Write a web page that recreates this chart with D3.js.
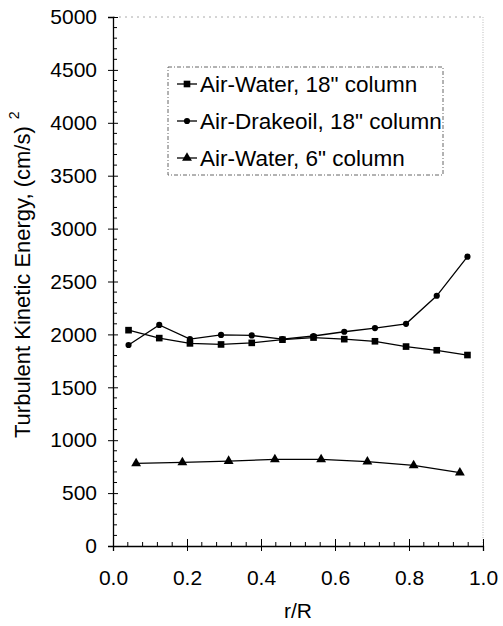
<!DOCTYPE html>
<html><head><meta charset="utf-8">
<script src="https://cdn.jsdelivr.net/npm/d3@7"></script>
<style>body{margin:0;background:#fff}text{font-family:"Liberation Sans",Arial,sans-serif}</style>
</head><body><svg id="c" width="503" height="626"></svg>
<script>
const seriesNames = ['Air-Water, 18" column', 'Air-Drakeoil, 18" column', 'Air-Water, 6" column'];
const x18 = [0.042, 0.125, 0.208, 0.292, 0.375, 0.458, 0.542, 0.625, 0.708, 0.792, 0.875, 0.958];
const airWater18 = [2040, 1965, 1915, 1905, 1920, 1950, 1970, 1955, 1935, 1885, 1850, 1805];
const drakeoil18 = [1900, 2090, 1955, 1995, 1990, 1955, 1985, 2025, 2060, 2100, 2365, 2735];
const x6 = [0.0625, 0.1875, 0.3125, 0.4375, 0.5625, 0.6875, 0.8125, 0.9375];
const airWater6 = [781, 791, 803, 819, 819, 797, 762, 693];
const xTicks = [0, 0.2, 0.4, 0.6, 0.8, 1.0];
const yTicks = [0, 500, 1000, 1500, 2000, 2500, 3000, 3500, 4000, 4500, 5000];

const svg = d3.select('#c');
const L = 113, R = 483, T = 17, B = 546;
const x = d3.scaleLinear().domain([0, 1]).range([L, R]);
const y = d3.scaleLinear().domain([0, 5000]).range([B, T]);
const fs = 21;

// frame top & right dotted
svg.append('line').attr('x1', L).attr('x2', R).attr('y1', T).attr('y2', T)
  .attr('stroke', '#aaa').attr('stroke-dasharray', '2,4');
svg.append('line').attr('x1', R).attr('x2', R).attr('y1', T).attr('y2', B)
  .attr('stroke', '#bbb').attr('stroke-dasharray', '1,1.5');

// minor ticks
const gMinor = svg.append('g').attr('stroke', '#000').attr('stroke-width', 1);
gMinor.selectAll('.my').data(d3.range(100, 5000, 100).filter(v => v % 500)).join('line')
  .attr('x1', L).attr('x2', L + 4).attr('y1', d => y(d)).attr('y2', d => y(d));
gMinor.selectAll('.mx').data(d3.range(1, 25).map(i => i * 0.04).filter((v, i) => (i + 1) % 5)).join('line')
  .attr('x1', d => x(d)).attr('x2', d => x(d)).attr('y1', B).attr('y2', B - 4);

// Y axis
const ya = svg.append('g').attr('transform', `translate(${L},0)`)
  .call(d3.axisLeft(y).tickValues(yTicks).tickFormat(d3.format('d')).tickSize(5).tickPadding(11));
ya.select('.domain').attr('stroke', '#000').attr('stroke-width', 1.3);
ya.selectAll('.tick line').clone().attr('x2', 5);
ya.selectAll('text').attr('font-size', fs).attr('fill', '#000').attr('font-family', '"Liberation Sans",Arial,sans-serif');

// X axis
const xa = svg.append('g').attr('transform', `translate(0,${B})`)
  .call(d3.axisBottom(x).tickValues(xTicks).tickFormat(d3.format('.1f')).tickSize(5).tickPadding(19));
xa.select('.domain').attr('stroke', '#000').attr('stroke-width', 1.3);
xa.selectAll('.tick line').clone().attr('y2', -7);
xa.selectAll('text').attr('font-size', fs).attr('fill', '#000').attr('font-family', '"Liberation Sans",Arial,sans-serif');

// axis titles
svg.append('text').attr('x', x(0.5)).attr('y', 618).attr('text-anchor', 'middle')
  .attr('font-size', fs).text('r/R');
const yt = svg.append('text').attr('transform', 'translate(30,438) rotate(-90)').attr('font-size', 22);
yt.append('tspan').text('Turbulent Kinetic Energy, (cm/s)');
yt.append('tspan').attr('dx', 7).attr('dy', -11).attr('font-size', 14).text('2');

// series
const line = d3.line().x(d => x(d[0])).y(d => y(d[1]));
const s1 = x18.map((v, i) => [v, airWater18[i]]);
const s2 = x18.map((v, i) => [v, drakeoil18[i]]);
const s3 = x6.map((v, i) => [v, airWater6[i]]);
[s1, s2, s3].forEach(s => svg.append('path').datum(s).attr('d', line)
  .attr('fill', 'none').attr('stroke', '#000').attr('stroke-width', 1.3));
const sq = d3.symbol().type(d3.symbolSquare).size(44);
const ci = d3.symbol().type(d3.symbolCircle).size(30);
const tr = d3.symbol().type(d3.symbolTriangle).size(42);
svg.selectAll('.p1').data(s1).join('path').attr('d', sq)
  .attr('transform', d => `translate(${x(d[0])},${y(d[1])})`);
svg.selectAll('.p2').data(s2).join('path').attr('d', ci)
  .attr('transform', d => `translate(${x(d[0])},${y(d[1])})`);
svg.selectAll('.p3').data(s3).join('path').attr('d', tr)
  .attr('transform', d => `translate(${x(d[0])},${y(d[1])})`);

// legend
const lg = svg.append('g');
lg.append('rect').attr('x', 168).attr('y', 67).attr('width', 275).attr('height', 108)
  .attr('fill', '#fff').attr('stroke', '#666').attr('stroke-dasharray', '4,2,1,2');
const syms = [sq, ci, tr];
seriesNames.forEach((n, i) => {
  const cy = 84 + i * 37;
  lg.append('line').attr('x1', 177).attr('x2', 197).attr('y1', cy).attr('y2', cy)
    .attr('stroke', '#000').attr('stroke-width', 1.3);
  lg.append('path').attr('d', syms[i]).attr('transform', `translate(187,${cy})`);
  lg.append('text').attr('x', 200).attr('y', cy + 8).attr('font-size', 22.5).text(n);
});
</script></body></html>
